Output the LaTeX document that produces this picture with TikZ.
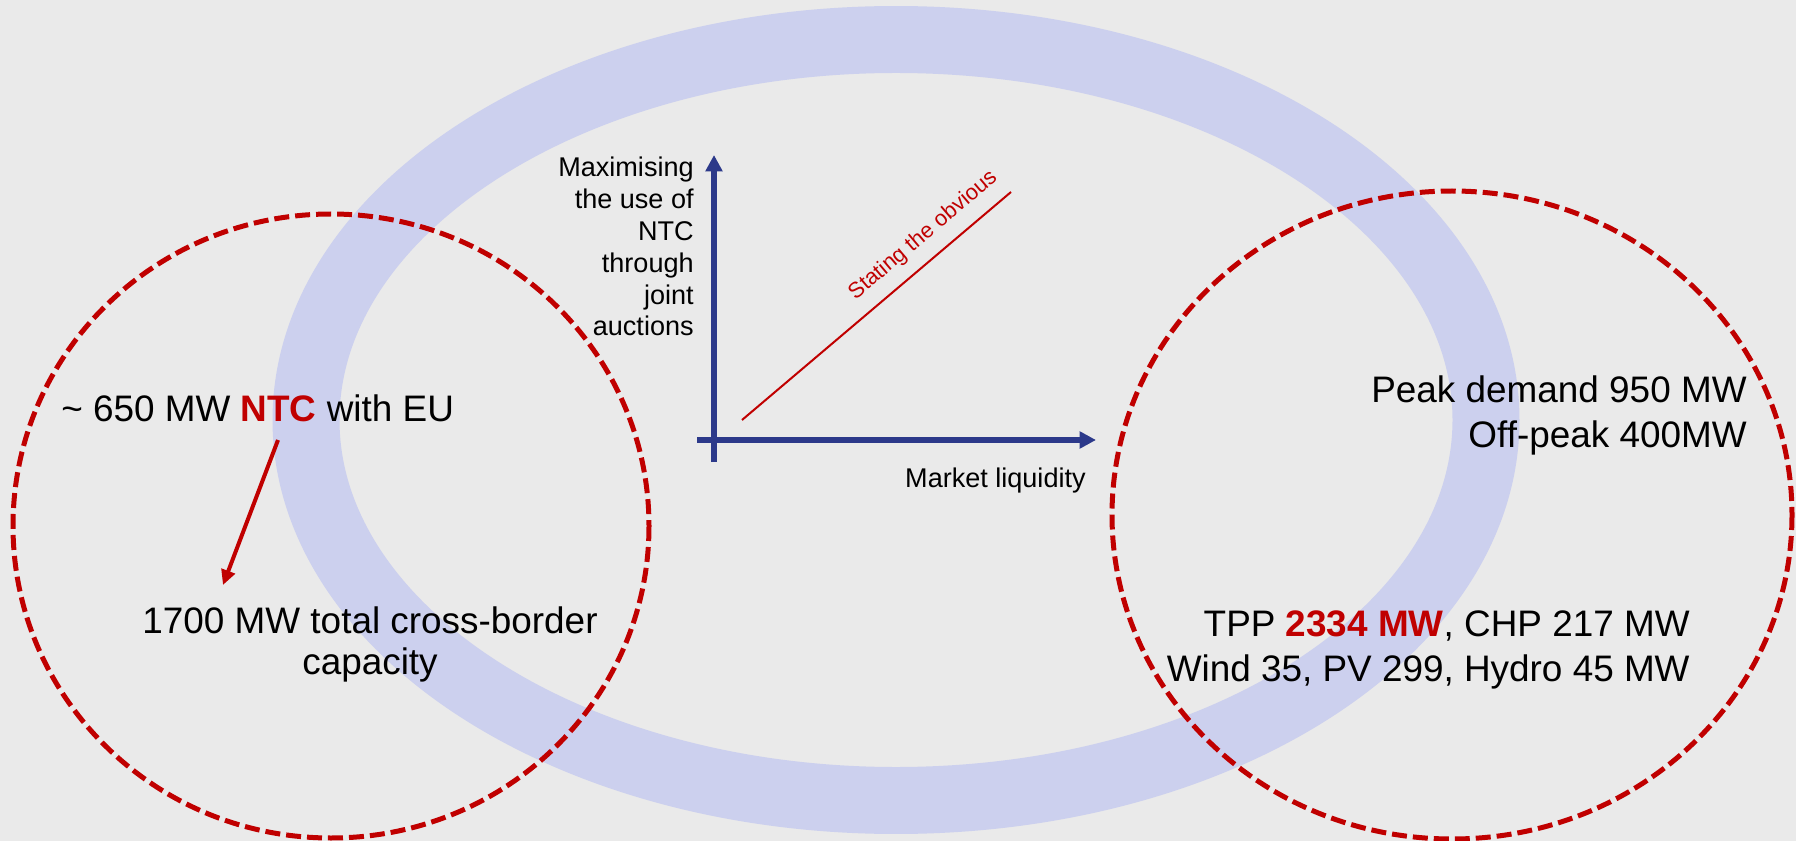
\documentclass[tikz,border=0pt]{standalone}
\usepackage{fontspec}
\setmainfont{Liberation Sans}
\usetikzlibrary{arrows.meta,positioning}
\definecolor{pagegray}{RGB}{234,234,234}
\definecolor{ringblue}{RGB}{204,208,238}
\definecolor{darkred}{RGB}{192,0,0}
\definecolor{axisblue}{RGB}{44,57,138}
\tikzset{
	ring/.style={draw=ringblue, line width=1.34cm},
	zone/.style={draw=darkred, line width=1mm, dash pattern=on 3mm off 1.2mm},
	axis/.style={draw=axisblue, line width=1.3mm, -{Triangle[length=3.3mm, width=3.3mm]}},
	bigtxt/.style={font=\fontsize{21}{24}\selectfont, inner sep=0pt},
	axtxt/.style={font=\fontsize{15.4}{18.1}\selectfont, inner sep=0pt}
}

\begin{document}
\begin{tikzpicture}[x=0.02cm, y=-0.02cm]
	\fill[pagegray] (0,0) rectangle (1796,841);
	\useasboundingbox (0,0) rectangle (1796,841);
	% market coupling ring and the two zones
	\draw[ring] (896,420) ellipse [x radius=590, y radius=380.5];
	\draw[zone] (331,526) ellipse [x radius=318, y radius=312];
	\draw[zone] (1452,515) ellipse [x radius=340, y radius=324];
	% liquidity graph
	\coordinate (yfoot) at (714,462);
	\coordinate (ytip) at (714,155);
	\coordinate (xfoot) at (697,440);
	\coordinate (xtip) at (1096,440);
	\draw[axis] (yfoot) -- (ytip);
	\draw[axis] (xfoot) -- (xtip);
	\node[axtxt, anchor=north east, align=right] (ylab) at (694,157)
		{Maximising\\the use of\\NTC\\through\\joint\\auctions};
	\node[axtxt, anchor=base east] (xlab) at (1086,487) {Market liquidity};
	\coordinate (lowend) at (742,420);
	\coordinate (highend) at (1011,192);
	\draw[darkred, line width=0.4mm] (lowend) -- (highend)
		node[pos=0.73, sloped, above=7pt, inner sep=0pt, text=darkred,
			font=\fontsize{12.5}{14}\selectfont] (obv) {Stating the obvious};
	% left zone
	\node[bigtxt, anchor=base west] (ntc) at (61,421)
		{\textasciitilde{} 650 MW \textcolor{darkred}{\textbf{NTC}} with EU};
	\node[bigtxt, anchor=north, align=center, font=\fontsize{21}{23.7}\selectfont] (xb) at (370,606)
		{1700 MW total cross-border\\capacity};
	\coordinate (ntcfoot) at (278,440);
	\coordinate (xbtop) at (223,585);
	\draw[darkred, line width=0.8mm, -{Triangle[length=3mm, width=2.8mm]}] (ntcfoot) -- (xbtop);
	% right zone
	\node[bigtxt, anchor=north east, align=right, font=\fontsize{21}{25.6}\selectfont] (demand) at (1747,375)
		{Peak demand 950 MW\\Off-peak 400MW};
	\node[bigtxt, anchor=north east, align=right, font=\fontsize{21}{25.6}\selectfont] (gen) at (1690,610)
		{TPP \textcolor{darkred}{\textbf{2334 MW}}, CHP 217 MW\\Wind 35, PV 299, Hydro 45 MW};
\end{tikzpicture}
\end{document}
